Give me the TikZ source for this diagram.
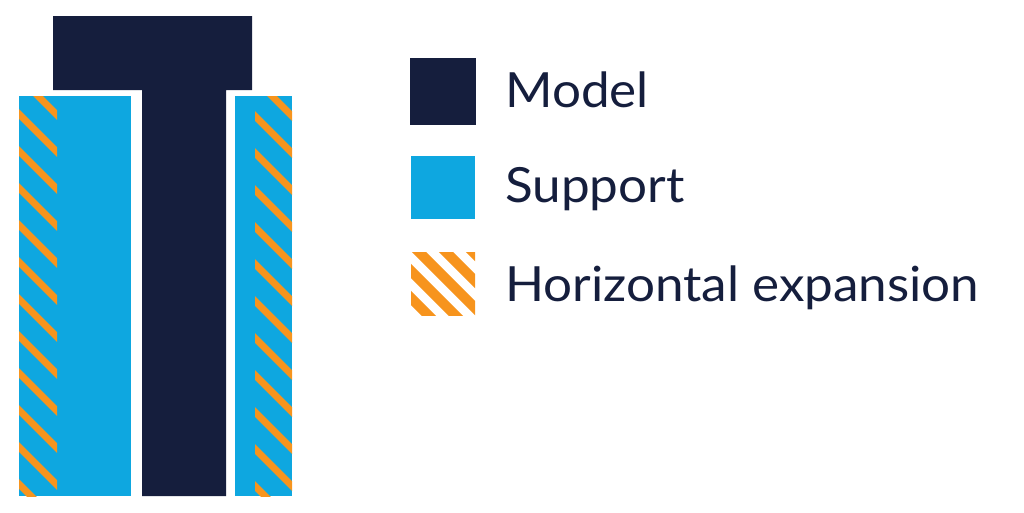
\documentclass[tikz,border=0pt]{standalone}
\usepackage{fontspec}
\setmainfont{Lato}[FakeStretch=1.056]
\definecolor{navy}{HTML}{151E3D}
\definecolor{sky}{HTML}{0EA7E0}
\definecolor{amber}{HTML}{F7941D}
\begin{document}
\begin{tikzpicture}[x=1pt,y=-1pt,
  modelfill/.style={fill=navy},
  supportfill/.style={fill=sky},
  stripe/.style={draw=amber,line width=7pt},
  lstripe/.style={draw=amber,line width=10pt},
  label/.style={anchor=base west,inner sep=0pt,text=navy,font=\fontsize{48.5}{56}\selectfont}]
\useasboundingbox (0,0) rectangle (1024,512);
% model T
\path[modelfill] (53,16) -- (252,16) -- (252,90) -- (226,90) -- (226,496) -- (142,496) -- (142,90) -- (53,90) -- cycle;
% supports
\path[supportfill] (19,96) rectangle (131,496);
\path[supportfill] (235,96) rectangle (292,496);
% hatches
\begin{scope}
\clip (19,96) rectangle (57,496);
\foreach \k in {-1,...,13} \draw[stripe] (0,21+37*\k) -- (100,121+37*\k);
\end{scope}
\begin{scope}
\clip (255,96) rectangle (292,496);
\foreach \k in {-7,...,8} \draw[stripe] (240,249+37*\k) -- (310,319+37*\k);
\end{scope}
% legend
\path[modelfill] (410,58) rectangle (476,125);
\path[supportfill] (411,156) rectangle (475,219);
\begin{scope}
\clip (411,252) rectangle (475,315);
\foreach \k in {-4,...,3} \draw[lstripe] (400,233+27*\k) -- (490,323+27*\k);
\end{scope}
\node[label] (model) at (505,107) {Model};
\node[label] (support) at (505,202) {Support};
\node[label] (hexp) at (505,301) {Horizontal expansion};
\end{tikzpicture}
\end{document}
